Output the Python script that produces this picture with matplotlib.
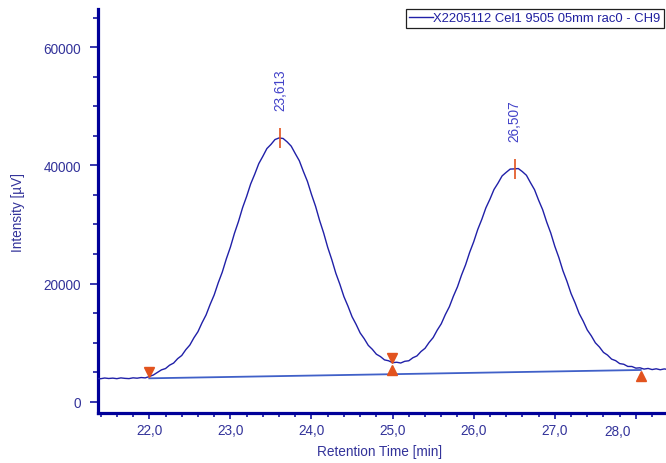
import numpy as np
import matplotlib
matplotlib.use('Agg')
import matplotlib.pyplot as plt
from matplotlib.ticker import MultipleLocator, FixedLocator, FixedFormatter
from matplotlib.transforms import offset_copy
from matplotlib.lines import Line2D

# ---------------- data ----------------
time_min = [
    21.35, 21.40, 21.45, 21.50, 21.55, 21.60, 21.65, 21.70, 21.75, 21.80,
    21.85, 21.90, 21.95, 22.00, 22.05, 22.10, 22.15, 22.20, 22.25, 22.30,
    22.35, 22.40, 22.45, 22.50, 22.55, 22.60, 22.65, 22.70, 22.75, 22.80,
    22.85, 22.90, 22.95, 23.00, 23.05, 23.10, 23.15, 23.20, 23.25, 23.30,
    23.35, 23.40, 23.45, 23.50, 23.55, 23.60, 23.65, 23.70, 23.75, 23.80,
    23.85, 23.90, 23.95, 24.00, 24.05, 24.10, 24.15, 24.20, 24.25, 24.30,
    24.35, 24.40, 24.45, 24.50, 24.55, 24.60, 24.65, 24.70, 24.75, 24.80,
    24.85, 24.90, 24.95, 25.00, 25.05, 25.10, 25.15, 25.20, 25.25, 25.30,
    25.35, 25.40, 25.45, 25.50, 25.55, 25.60, 25.65, 25.70, 25.75, 25.80,
    25.85, 25.90, 25.95, 26.00, 26.05, 26.10, 26.15, 26.20, 26.25, 26.30,
    26.35, 26.40, 26.45, 26.50, 26.55, 26.60, 26.65, 26.70, 26.75, 26.80,
    26.85, 26.90, 26.95, 27.00, 27.05, 27.10, 27.15, 27.20, 27.25, 27.30,
    27.35, 27.40, 27.45, 27.50, 27.55, 27.60, 27.65, 27.70, 27.75, 27.80,
    27.85, 27.90, 27.95, 28.00, 28.05, 28.10, 28.15, 28.20, 28.25, 28.30,
    28.35, 28.40,
]
intensity_uv = [
    3960, 3890, 4010, 3930, 3990, 3900, 4030, 3950, 3910, 4040,
    3980, 4090, 4030, 4260, 4520, 4960, 5390, 5610, 6180, 6540,
    7290, 7820, 8800, 9590, 10810, 11850, 13350, 14680, 16460, 18070,
    20120, 21940, 24180, 26160, 28500, 30520, 32830, 34740, 36860, 38510,
    40300, 41540, 42850, 43550, 44380, 44650, 44560, 43980, 43260, 42000,
    40790, 38980, 37290, 35090, 33090, 30680, 28560, 26130, 24060, 21750,
    19870, 17780, 16170, 14390, 13090, 11640, 10670, 9540, 8870, 8040,
    7640, 7080, 6930, 6600, 6680, 6550, 6840, 6930, 7440, 7750,
    8490, 9040, 10030, 10850, 12110, 13190, 14740, 16080, 17870, 19450,
    21440, 23180, 25280, 27070, 29160, 30870, 32810, 34280, 35920, 37010,
    38220, 38820, 39380, 39410, 39470, 38950, 38330, 37080, 35890, 34120,
    32510, 30410, 28560, 26310, 24400, 22180, 20370, 18320, 16730, 14940,
    13640, 12150, 11150, 9970, 9260, 8350, 7890, 7210, 6950, 6450,
    6340, 5970, 5960, 5680, 5740, 5520, 5630, 5440, 5570, 5410,
    5550, 5430,
]
baseline_t = [22.00, 28.06]
baseline_uv = [3960, 5370]
peak_t = [23.613, 26.507]
peak_uv = [44700, 39450]
peak_labels = ['23,613', '26,507']
start_t = [22.00, 24.99]
start_uv = [4260, 6600]
end_t = [24.99, 28.06]
end_uv = [6600, 5600]
xtick_vals = [22, 23, 24, 25, 26, 27, 28]
xtick_labels = ['22,0', '23,0', '24,0', '25,0', '26,0', '27,0', '28,0']
ytick_vals = [0, 20000, 40000, 60000]
ytick_labels = ['0', '20000', '40000', '60000']
series_name = 'X2205112 Cel1 9505 05mm rac0 - CH9'

# ---------------- styling ----------------
FONT = 'Liberation Sans'
plt.rcParams['font.family'] = [FONT, 'DejaVu Sans']
AXIS_C = '#000099'
TEXT_C = '#33339A'
CURVE_C = '#2020A8'
BASE_C = '#4060C8'
MARK_C = '#E2531E'
FS = 9.8

W, H = 666, 464
fig = plt.figure(figsize=(W / 100, H / 100), dpi=100)
left_px, right_px, top_px, bottom_px = 97.7, 666.0, 10.0, 413.7
ax = fig.add_axes([left_px / W, 1 - bottom_px / H,
                   (right_px - left_px) / W, (bottom_px - top_px) / H])

ax.plot(time_min, intensity_uv, color=CURVE_C, lw=1.0, zorder=3)
ax.plot(baseline_t, baseline_uv, color=BASE_C, lw=1.3, zorder=2)

# apex markers
ax.plot(peak_t, peak_uv, linestyle='none', marker='|', markersize=15,
        markeredgewidth=1.2, color=MARK_C, zorder=4)
for t, v, lab in zip(peak_t, peak_uv, peak_labels):
    ax.annotate(lab, xy=(t, v), xytext=(0, 20), textcoords='offset points',
                rotation=90, ha='center', va='bottom', fontsize=FS,
                color='#4242C8')

# integration boundary markers
tr_up = offset_copy(ax.transData, fig=fig, x=0, y=5, units='dots')
tr_dn = offset_copy(ax.transData, fig=fig, x=0, y=-7, units='dots')
ax.plot(start_t, start_uv, linestyle='none', marker='v', markersize=6.5,
        color=MARK_C, transform=tr_up, zorder=5)
ax.plot(end_t, end_uv, linestyle='none', marker='^', markersize=6.5,
        color=MARK_C, transform=tr_dn, zorder=5)

ax.set_xlim(21.364, 28.371)
ax.set_ylim(-1862, 66480)

for s in ['top', 'right']:
    ax.spines[s].set_visible(False)
for s in ['left', 'bottom']:
    ax.spines[s].set_color(AXIS_C)
    ax.spines[s].set_linewidth(2.3)

ax.xaxis.set_major_locator(FixedLocator(xtick_vals))
shown_x = xtick_labels[:-1] + ['']
ax.xaxis.set_major_formatter(FixedFormatter(shown_x))
ax.xaxis.set_minor_locator(MultipleLocator(0.2))
ax.yaxis.set_major_locator(FixedLocator(ytick_vals))
ax.yaxis.set_major_formatter(FixedFormatter(ytick_labels))
ax.yaxis.set_minor_locator(MultipleLocator(5000))

ax.tick_params(axis='x', which='major', length=4.6, width=1.1, color=AXIS_C,
               labelcolor=TEXT_C, labelsize=FS, pad=3)
ax.tick_params(axis='x', which='minor', length=2.8, width=1.1, color=AXIS_C)
ax.tick_params(axis='y', which='major', length=6.0, width=1.1, color=AXIS_C,
               labelcolor=TEXT_C, labelsize=FS, pad=6)
ax.tick_params(axis='y', which='minor', length=3.6, width=1.1, color=AXIS_C)

# last x tick label sits left of its tick (as in the original)
ax.annotate(xtick_labels[-1], xy=(xtick_vals[-1], 0),
            xycoords=('data', 'axes fraction'), xytext=(-13, -7.8),
            textcoords='offset points', ha='center', va='top',
            fontsize=FS, color=TEXT_C)

fig.text(18 / W, 1 - 213 / H, 'Intensity [µV]', rotation=90, ha='center',
         va='center', fontsize=FS, color=TEXT_C)
fig.text(380 / W, 1 - 452 / H, 'Retention Time [min]', ha='center',
         va='center', fontsize=FS, color=TEXT_C)

handle = Line2D([], [], color=CURVE_C, lw=1.0)
leg = fig.legend([handle], [series_name], loc='upper left',
                 bbox_to_anchor=(406 / W, 1 - 10 / H), frameon=True,
                 fancybox=False, edgecolor='#202020', framealpha=1,
                 borderpad=0.25, handlelength=1.8, handletextpad=0.05,
                 borderaxespad=0, fontsize=9.4, labelcolor='#2020A0')
leg.get_frame().set_linewidth(0.9)

fig.savefig('out.png', dpi=100)
